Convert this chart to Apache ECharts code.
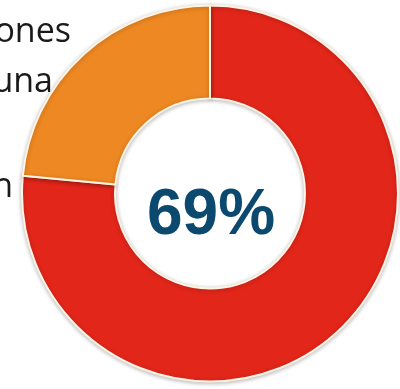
<!DOCTYPE html>
<html>
<head>
<meta charset="utf-8">
<script src="https://cdn.jsdelivr.net/npm/echarts@6/dist/echarts.min.js"></script>
<style>
html,body{margin:0;padding:0;background:#fff;}
#chart{width:400px;height:389px;}
</style>
</head>
<body>
<div id="chart"></div>
<script>
const categories = ['Sí', 'No'];
const values = [76.5, 23.5];
const sliceColors = ['#e2261a', '#ee8822'];
const centerLabel = '69%';
const sideLines = ['ones', 'una', 'n'];

const chart = echarts.init(document.getElementById('chart'), null, {renderer: 'canvas'});

const sidePos = [[71, 32], [53, 82], [13, 187]];
const graphics = sideLines.map((t, i) => ({
  type: 'text',
  x: sidePos[i][0],
  y: sidePos[i][1],
  z: 0,
  style: {
    text: t,
    align: 'right',
    verticalAlign: 'middle',
    fontFamily: 'Open Sans',
    fontSize: 34,
    fill: '#1a1a1a'
  }
}));
graphics.push({
  type: 'text',
  x: 211,
  y: 216,
  z: 100,
  style: {
    text: centerLabel,
    align: 'center',
    verticalAlign: 'middle',
    fontFamily: 'Liberation Sans',
    fontWeight: 'bold',
    fontSize: 64,
    fill: '#0b4a6e'
  }
});

chart.setOption({
  animation: false,
  backgroundColor: '#ffffff',
  graphic: graphics,
  series: [{
    type: 'pie',
    z: 5,
    center: [210, 193.5],
    radius: [95, 188],
    startAngle: 90,
    clockwise: true,
    label: {show: false},
    labelLine: {show: false},
    emphasis: {disabled: true},
    itemStyle: {
      borderColor: '#fff3e4',
      borderWidth: 2,
      shadowBlur: 4,
      shadowColor: 'rgba(0,0,0,0.25)',
      shadowOffsetY: 1
    },
    data: categories.map((c, i) => ({
      name: c,
      value: values[i],
      itemStyle: {color: sliceColors[i]}
    }))
  }]
});
</script>
</body>
</html>
